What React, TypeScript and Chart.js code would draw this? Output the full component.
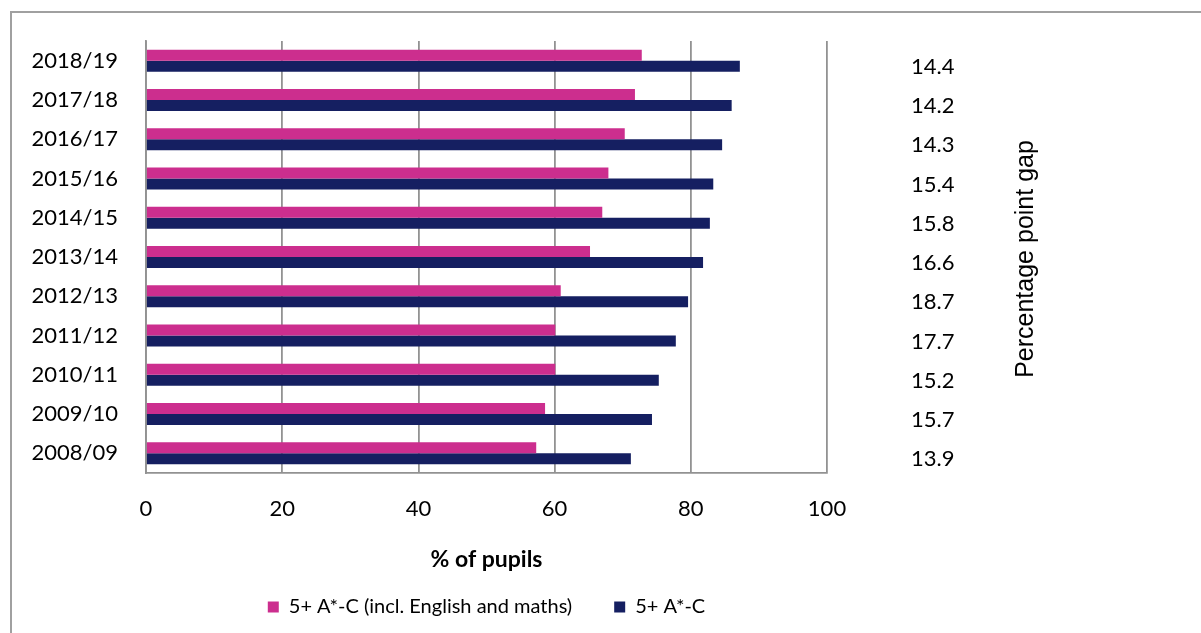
import React, { useEffect, useRef } from "react";
import { Chart, registerables } from "chart.js";

Chart.register(...registerables);

const categories = [
  "2018/19", "2017/18", "2016/17", "2015/16", "2014/15", "2013/14",
  "2012/13", "2011/12", "2010/11", "2009/10", "2008/09",
];
const inclEnglishMaths = [72.8, 71.8, 70.3, 67.9, 67.0, 65.2, 60.9, 60.1, 60.1, 58.6, 57.3];
const fivePlusAC = [87.2, 86.0, 84.6, 83.3, 82.8, 81.8, 79.6, 77.8, 75.3, 74.3, 71.2];
const gapValues = [14.4, 14.2, 14.3, 15.4, 15.8, 16.6, 18.7, 17.7, 15.2, 15.7, 13.9];
const xTicks = [0, 20, 40, 60, 80, 100];

const FONT = "Lato, 'Noto Sans', sans-serif";

const gapTitlePlugin = {
  id: "gapTitle",
  afterDraw(chart: any) {
    const ctx = chart.ctx;
    const y2 = chart.scales.y2;
    const area = chart.chartArea;
    ctx.save();
    ctx.translate(y2.left + 199, (area.top + area.bottom) / 2 + 2);
    ctx.rotate(-Math.PI / 2);
    ctx.textAlign = "center";
    ctx.textBaseline = "middle";
    ctx.fillStyle = "#000";
    ctx.font = "25px 'Liberation Sans', Arial, sans-serif";
    ctx.fillText("Percentage point gap", 0, 0);
    ctx.restore();
  },
};

const noVerticalPadding = (s: any) => {
  s.paddingTop = 0;
  s.paddingBottom = 0;
};

export default function App() {
  const ref = useRef<HTMLCanvasElement | null>(null);

  useEffect(() => {
    if (!ref.current) return;
    const chart = new Chart(ref.current, {
      type: "bar",
      data: {
        labels: categories,
        datasets: [
          {
            label: "5+ A*-C (incl. English and maths)",
            data: inclEnglishMaths,
            backgroundColor: "#CC2E8E",
            borderWidth: 0,
            barPercentage: 1,
            categoryPercentage: 0.56,
          },
          {
            label: "5+ A*-C",
            data: fivePlusAC,
            backgroundColor: "#151F61",
            borderWidth: 0,
            barPercentage: 1,
            categoryPercentage: 0.56,
          },
        ],
      },
      options: {
        indexAxis: "y",
        responsive: false,
        animation: false,
        layout: { padding: { top: 41, left: 0, right: 0, bottom: 6 } },
        scales: {
          x: {
            min: 0,
            max: 100,
            afterBuildTicks: (s: any) => {
              s.ticks = xTicks.map((v) => ({ value: v }));
            },
            afterFit: (s: any) => {
              s.height = 82;
            },
            grid: { color: "#929292", lineWidth: 1.8, drawTicks: false },
            border: { display: true, color: "#929292", width: 1.8 },
            ticks: { color: "#000", padding: 23, font: { family: FONT, size: 22 } },
            title: {
              display: true,
              text: "% of pupils",
              color: "#000",
              font: { family: FONT, size: 23, weight: "bold" },
              padding: { top: 0, bottom: -18.5 },
            },
          },
          y: {
            type: "category",
            position: "left",
            offset: true,
            afterFit: (s: any) => {
              s.width = 146;
              noVerticalPadding(s);
            },
            grid: { display: false, drawTicks: false },
            border: { display: true, color: "#929292", width: 1.8 },
            ticks: { color: "#000", padding: 28, font: { family: FONT, size: 22 } },
          },
          y2: {
            type: "category",
            position: "right",
            labels: gapValues.map((v) => v.toFixed(1)),
            offset: true,
            afterFit: (s: any) => {
              s.width = 374;
              noVerticalPadding(s);
            },
            grid: { display: false, drawTicks: false },
            border: { display: false },
            ticks: { color: "#000", padding: 84, labelOffset: 6, font: { family: FONT, size: 22 } },
          },
        },
        plugins: {
          legend: {
            position: "bottom",
            fullSize: false,
            labels: {
              color: "#000",
              boxWidth: 11,
              boxHeight: 11,
              padding: 42,
              font: { family: FONT, size: 20 },
            },
          },
          tooltip: { enabled: false },
        },
      } as any,
      plugins: [gapTitlePlugin],
    });
    return () => chart.destroy();
  }, []);

  return (
    <div style={{ position: "fixed", left: 0, top: 0, width: 1201, height: 633, background: "#fff" }}>
      <div
        style={{
          position: "absolute",
          left: 10,
          top: 11,
          right: -4,
          bottom: -4,
          borderLeft: "2px solid #a0a0a0",
          borderTop: "2px solid #a0a0a0",
        }}
      />
      <canvas ref={ref} width={1201} height={633} style={{ position: "absolute", left: 0, top: 0 }} />
    </div>
  );
}
